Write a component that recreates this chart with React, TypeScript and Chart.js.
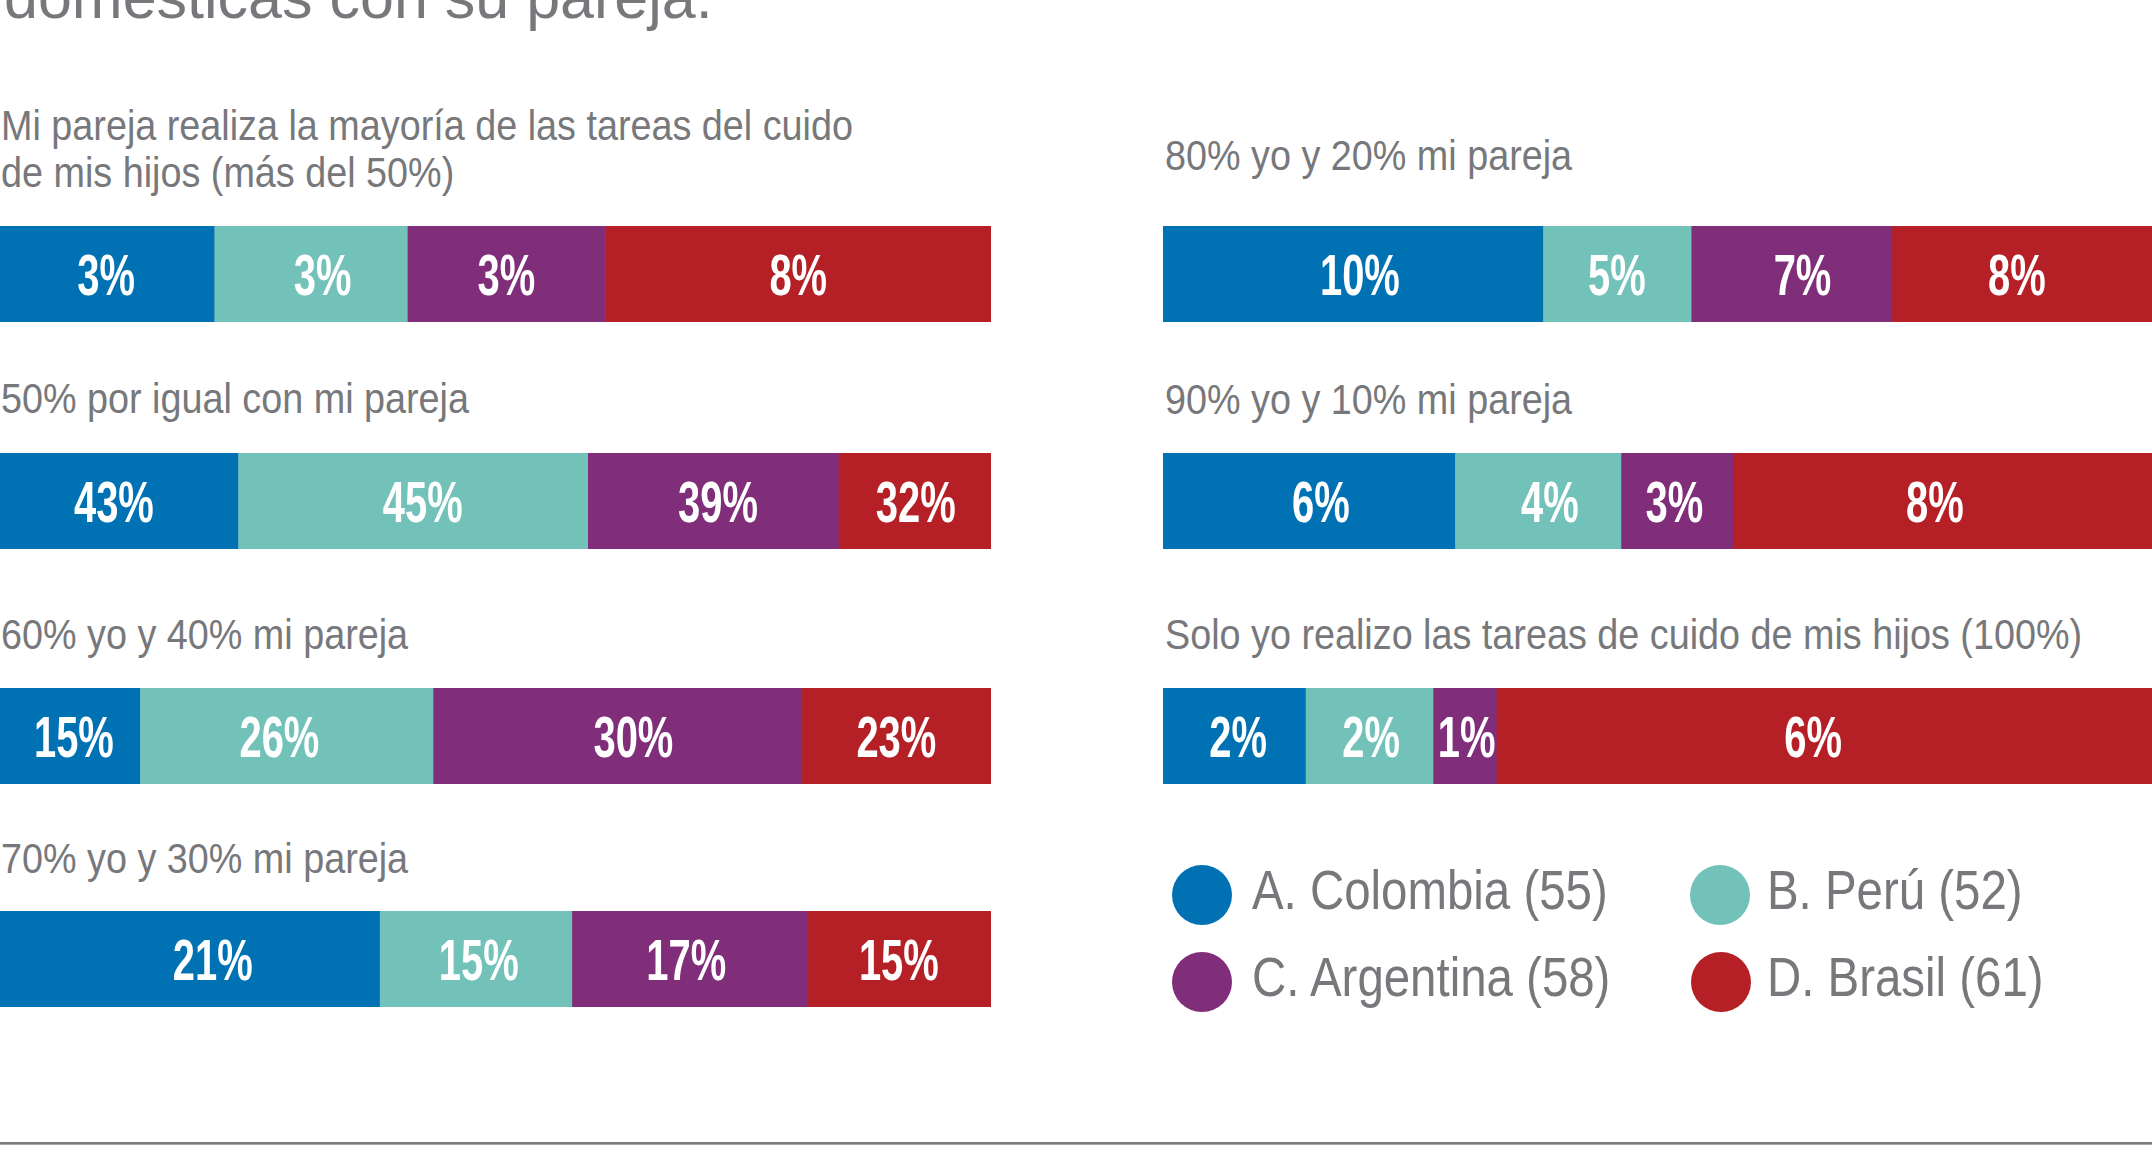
import React, { useEffect, useRef } from 'react';
import { Chart, registerables } from 'chart.js';
Chart.register(...registerables);

// ---------- data ----------
const titleText = 'domésticas con su pareja.';
const categories = [
  'Mi pareja realiza la mayoría de las tareas del cuido\nde mis hijos (más del 50%)',
  '50% por igual con mi pareja',
  '60% yo y 40% mi pareja',
  '70% yo y 30% mi pareja',
  '80% yo y 20% mi pareja',
  '90% yo y 10% mi pareja',
  'Solo yo realizo las tareas de cuido de mis hijos (100%)',
];
const countries = ['A. Colombia (55)', 'B. Perú (52)', 'C. Argentina (58)', 'D. Brasil (61)'];
// percentages printed on the segments
const colombiaPct = [3, 43, 15, 21, 10, 6, 2];
const peruPct = [3, 45, 26, 15, 5, 4, 2];
const argentinaPct = [3, 39, 30, 17, 7, 3, 1];
const brasilPct = [8, 32, 23, 15, 8, 8, 6];
// segment lengths as drawn in the graphic (share of each bar, %)
const colombiaShare = [21.6, 24.0, 14.1, 38.3, 38.4, 29.5, 14.4];
const peruShare = [19.5, 35.3, 29.6, 19.4, 15.0, 16.8, 12.9];
const argentinaShare = [20.0, 25.3, 37.2, 23.7, 20.3, 11.4, 6.4];
const brasilShare = [38.9, 15.4, 19.1, 18.6, 26.3, 42.3, 66.3];

// ---------- styles / layout ----------
const COLORS = ['#0071B3', '#73C2BA', '#802D7A', '#B52027'];
const GRAY = '#77787B';
const FONT = "'Liberation Sans', Arial, sans-serif";
const BAR_H = 96;
const rows = [
  { x: 0, y: 226, w: 991, tx: 1, ty: 101.6 },
  { x: 0, y: 453, w: 991, tx: 1, ty: 374.6 },
  { x: 0, y: 688, w: 991, tx: 1, ty: 610.6 },
  { x: 0, y: 911, w: 991, tx: 1, ty: 834.6 },
  { x: 1163, y: 226, w: 989, tx: 1165, ty: 132.3 },
  { x: 1163, y: 453, w: 989, tx: 1165, ty: 375.6 },
  { x: 1163, y: 688, w: 989, tx: 1165, ty: 610.6 },
];
// horizontal nudge of the in-bar labels (px), as placed by the designer
const labelNudge = [
  [-1, 12, 0, 0],
  [-5, 10, 5, 1],
  [4, -7, 16, 0],
  [23, 3, -3, 0],
  [7, 0, 11, -5],
  [12, 12, -3, -8],
  [4, 2, 2, -11],
];
const legendPos = [
  { cx: 1202, cy: 895, tx: 1252, ty: 863.4 },
  { cx: 1720, cy: 895, tx: 1767, ty: 863.4 },
  { cx: 1202, cy: 982, tx: 1252, ty: 950.4 },
  { cx: 1721, cy: 982, tx: 1767, ty: 950.4 },
];

const pctSeries = [colombiaPct, peruPct, argentinaPct, brasilPct];
const shareSeries = [colombiaShare, peruShare, argentinaShare, brasilShare];

const labelPlugin = {
  id: 'segLabels',
  afterDatasetsDraw(chart: any) {
    const ctx = chart.ctx;
    const row = chart.options.plugins.segLabels.row;
    ctx.save();
    ctx.fillStyle = '#ffffff';
    ctx.textAlign = 'center';
    ctx.textBaseline = 'alphabetic';
    ctx.font = `bold 57px ${FONT}`;
    chart.data.datasets.forEach((ds: any, i: number) => {
      const el = chart.getDatasetMeta(i).data[0];
      if (!el) return;
      const cx = (el.x + el.base) / 2 + labelNudge[row][i];
      const cy = el.y;
      ctx.save();
      ctx.translate(cx, cy + 20.5);
      ctx.scale(0.7, 1);
      ctx.fillText(`${pctSeries[i][row]}%`, 0, 0);
      ctx.restore();
    });
    ctx.restore();
  },
};

function BarRow({ row }: { row: number }) {
  const ref = useRef<HTMLCanvasElement>(null);
  const r = rows[row];
  useEffect(() => {
    if (!ref.current) return;
    const chart = new Chart(ref.current, {
      type: 'bar',
      data: {
        labels: [categories[row]],
        datasets: countries.map((c, i) => ({
          label: c,
          data: [shareSeries[i][row]],
          backgroundColor: COLORS[i],
          borderWidth: 0,
          barPercentage: 1,
          categoryPercentage: 1,
        })),
      },
      options: {
        indexAxis: 'y',
        responsive: false,
        animation: false,
        devicePixelRatio: 1,
        layout: { padding: 0 },
        scales: {
          x: { stacked: true, min: 0, max: 100, display: false },
          y: { stacked: true, display: false },
        },
        plugins: {
          legend: { display: false },
          tooltip: { enabled: false },
          segLabels: { row },
        } as any,
      },
      plugins: [labelPlugin],
    } as any);
    return () => chart.destroy();
  }, [row]);
  return (
    <canvas
      ref={ref}
      width={r.w}
      height={BAR_H}
      style={{ position: 'absolute', left: r.x, top: r.y, width: r.w, height: BAR_H, display: 'block' }}
    />
  );
}

export default function App() {
  useEffect(() => {
    document.body.style.margin = '0';
  }, []);
  return (
    <div
      style={{
        position: 'absolute',
        left: 0,
        top: 0,
        width: 2152,
        height: 1169,
        overflow: 'hidden',
        background: '#ffffff',
        fontFamily: FONT,
      }}
    >
      <div
        style={{
          position: 'absolute',
          left: 4,
          top: -32.6,
          fontSize: 61,
          lineHeight: '61px',
          color: GRAY,
          whiteSpace: 'pre',
        }}
      >
        {titleText}
      </div>
      {rows.map((r, i) => (
        <div
          key={'t' + i}
          style={{
            position: 'absolute',
            left: r.tx,
            top: r.ty,
            fontSize: 43,
            lineHeight: '47px',
            color: GRAY,
            whiteSpace: 'pre',
            transform: 'scaleX(0.878)',
            transformOrigin: 'left top',
          }}
        >
          {categories[i]}
        </div>
      ))}
      {rows.map((_, i) => (
        <BarRow key={'b' + i} row={i} />
      ))}
      {countries.map((c, i) => (
        <React.Fragment key={'l' + i}>
          <div
            style={{
              position: 'absolute',
              left: legendPos[i].cx - 30,
              top: legendPos[i].cy - 30,
              width: 60,
              height: 60,
              borderRadius: '50%',
              background: COLORS[i],
            }}
          />
          <div
            style={{
              position: 'absolute',
              left: legendPos[i].tx,
              top: legendPos[i].ty,
              fontSize: 55,
              lineHeight: '55px',
              color: GRAY,
              whiteSpace: 'pre',
              transform: 'scaleX(0.862)',
              transformOrigin: 'left top',
            }}
          >
            {c}
          </div>
        </React.Fragment>
      ))}
      <div style={{ position: 'absolute', left: 0, top: 1142, width: 2152, height: 2, background: '#7A7A7A' }} />
      <div style={{ position: 'absolute', left: 0, top: 1144, width: 2152, height: 1, background: '#A8A8A8' }} />
    </div>
  );
}
